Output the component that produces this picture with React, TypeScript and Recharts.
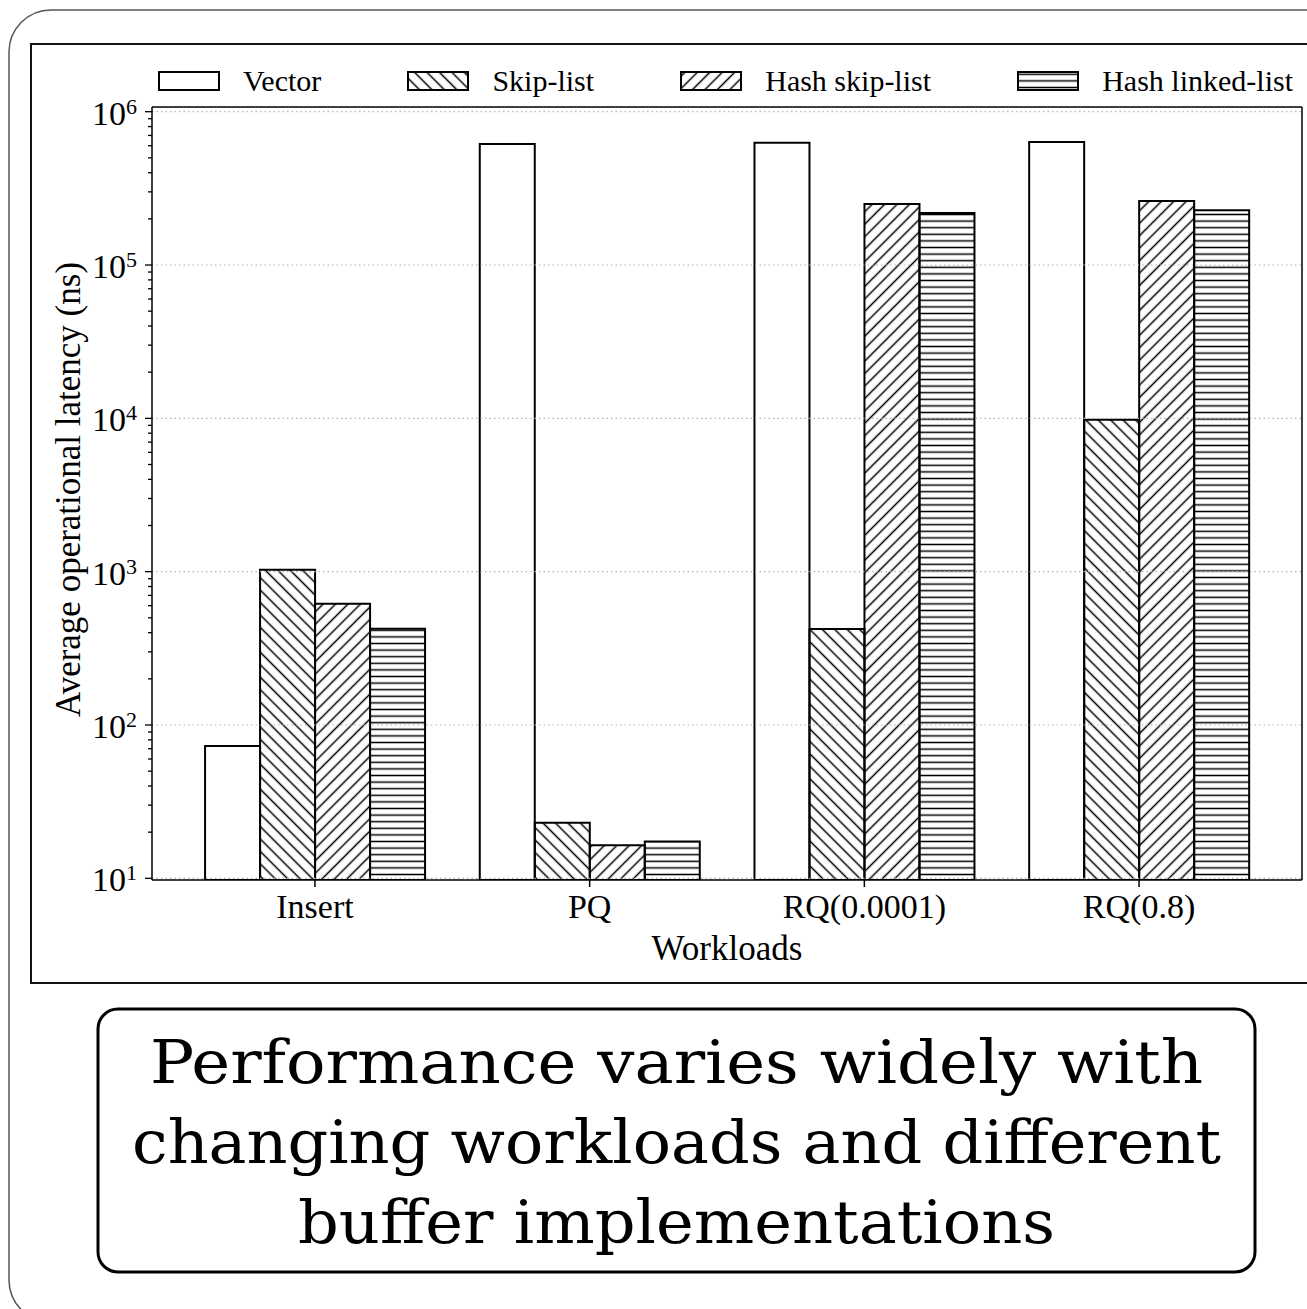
import React from 'react';
import { BarChart, Bar, XAxis, YAxis, ReferenceLine } from 'recharts';

const workloads = ['Insert', 'PQ', 'RQ(0.0001)', 'RQ(0.8)'];
const vectorLatency = [73, 616000, 628000, 635000];
const skipListLatency = [1030, 23, 423, 9800];
const hashSkipListLatency = [618, 16.4, 250000, 262000];
const hashLinkedListLatency = [425, 17.4, 218000, 228000];

const seriesNames = ['Vector', 'Skip-list', 'Hash skip-list', 'Hash linked-list'];
const seriesKeys = ['vector', 'skipList', 'hashSkipList', 'hashLinkedList'];
const seriesFills = ['none', 'url(#hatchBack)', 'url(#hatchFwd)', 'url(#hatchHoriz)'];

const yMajorTicks = [10, 100, 1000, 10000, 100000, 1000000];
const yMinorMultipliers = [2, 3, 4, 5, 6, 7, 8, 9];
const yDomain: [number, number] = [9.75, 1.073e6];

const xAxisTitle = 'Workloads';
const yAxisTitle = 'Average operational latency (ns)';
const captionLines = [
  'Performance varies widely with',
  'changing workloads and different',
  'buffer implementations',
];
const captionWidths = [1053, 1089, 757];

const data = workloads.map((name, i) => ({
  name,
  vector: vectorLatency[i],
  skipList: skipListLatency[i],
  hashSkipList: hashSkipListLatency[i],
  hashLinkedList: hashLinkedListLatency[i],
}));

const yTicks: number[] = [];
yMajorTicks.forEach((t) => {
  yTicks.push(t);
  if (t < 1000000) yMinorMultipliers.forEach((m) => yTicks.push(m * t));
});
yTicks.sort((a, b) => a - b);

const SERIF = '"Liberation Serif", "Times New Roman", serif';

const YTick = (props: any) => {
  const { x, y, payload } = props;
  const v = payload.value;
  const lg = Math.log10(v);
  const exp = Math.round(lg);
  const isMajor = Math.abs(lg - exp) < 1e-6;
  const len = isMajor ? 7 : 4;
  return (
    <g>
      <line x1={x - len} x2={x} y1={y} y2={y} stroke="#000" strokeWidth={1.3} />
      {isMajor && (
        <text x={x - 15} y={y + 13} textAnchor="end" fontFamily={SERIF} fontSize={34} fill="#000">
          10
          <tspan dy={-11} fontSize={22}>{exp}</tspan>
        </text>
      )}
    </g>
  );
};

const XTick = (props: any) => {
  const { x, y, payload } = props;
  return (
    <g>
      <line x1={x} x2={x} y1={y} y2={y + 7} stroke="#000" strokeWidth={1.5} />
      <text x={x} y={y + 38} textAnchor="middle" fontFamily={SERIF} fontSize={34} fill="#000">
        {payload.value}
      </text>
    </g>
  );
};

const XLabel = (props: any) => {
  const vb = props.viewBox || { x: 152, y: 880, width: 1150, height: 90 };
  return (
    <text x={vb.x + vb.width / 2} y={vb.y + 80} textAnchor="middle" fontFamily={SERIF} fontSize={35} fill="#000">
      {xAxisTitle}
    </text>
  );
};

const YLabel = (props: any) => {
  const vb = props.viewBox || { x: 52, y: 107, width: 100, height: 773 };
  const lx = vb.x + 28;
  const ly = vb.y + vb.height / 2 - 4;
  return (
    <text
      x={lx}
      y={ly}
      transform={`rotate(-90, ${lx}, ${ly})`}
      textAnchor="middle"
      fontFamily={SERIF}
      fontSize={35}
      fill="#000"
    >
      {yAxisTitle}
    </text>
  );
};

const Patterns = () => (
  <svg width={0} height={0} style={{ position: 'absolute', left: 0, top: 0 }}>
    <defs>
      <pattern id="hatchBack" patternUnits="userSpaceOnUse" width={8.8} height={8.8} patternTransform="rotate(-45)">
        <line x1={4.4} y1={0} x2={4.4} y2={8.8} stroke="#000" strokeWidth={1.5} />
      </pattern>
      <pattern id="hatchFwd" patternUnits="userSpaceOnUse" width={8.8} height={8.8} patternTransform="rotate(45)">
        <line x1={4.4} y1={0} x2={4.4} y2={8.8} stroke="#000" strokeWidth={1.5} />
      </pattern>
      <pattern id="hatchHoriz" patternUnits="userSpaceOnUse" width={10} height={6.6}>
        <line x1={0} y1={3.3} x2={10} y2={3.3} stroke="#000" strokeWidth={1.5} />
      </pattern>
    </defs>
  </svg>
);

const LegendRow = () => (
  <div
    style={{
      position: 'absolute',
      left: 158,
      top: 71,
      width: 1135,
      height: 20,
      display: 'flex',
      justifyContent: 'space-between',
      alignItems: 'center',
    }}
  >
    {seriesNames.map((n, i) => (
      <div key={n} style={{ display: 'flex', alignItems: 'center', height: 20 }}>
        <svg width={62} height={20} style={{ display: 'block' }}>
          <rect x={1} y={1} width={60} height={18} fill={seriesFills[i]} stroke="#000" strokeWidth={2} />
        </svg>
        <span style={{ marginLeft: 23, fontFamily: SERIF, fontSize: 30, lineHeight: '20px', color: '#000', whiteSpace: 'nowrap' }}>
          {n}
        </span>
      </div>
    ))}
  </div>
);

export default function App() {
  return (
    <div style={{ position: 'absolute', left: 0, top: 0, width: 1307, height: 1309, background: '#fff', overflow: 'hidden' }}>
      <Patterns />
      <svg width={1307} height={1309} style={{ position: 'absolute', left: 0, top: 0 }}>
        <rect x={9} y={10} width={1340} height={1312} rx={42} ry={42} fill="#fff" stroke="#555" strokeWidth={1.5} />
        <rect x={31} y={44} width={1300} height={939} fill="#fff" stroke="#111" strokeWidth={2} />
        <rect x={98} y={1009} width={1157} height={263} rx={20} ry={20} fill="#fff" stroke="#000" strokeWidth={3} />
        {captionLines.map((line, i) => (
          <text
            key={line}
            x={676.5}
            y={1083 + i * 80}
            textAnchor="middle"
            fontFamily='"DejaVu Serif", serif'
            fontSize={59}
            textLength={captionWidths[i]}
            lengthAdjust="spacingAndGlyphs"
            fill="#000"
          >
            {line}
          </text>
        ))}
      </svg>
      <LegendRow />
      <div style={{ position: 'absolute', left: 0, top: 0 }}>
        <BarChart
          width={1307}
          height={1000}
          data={data}
          margin={{ top: 106, right: 4, bottom: 30, left: 52 }}
          barGap={0}
          barCategoryGap="10%"
        >
          <XAxis
            dataKey="name"
            height={90}
            padding={{ left: 25.6, right: 25.6 }}
            tickSize={0}
            tickMargin={0}
            tickLine={false}
            tick={<XTick />}
            interval={0}
            axisLine={{ stroke: '#000', strokeWidth: 1.5 }}
            label={<XLabel />}
          />
          <XAxis
            xAxisId="top"
            orientation="top"
            dataKey="name"
            height={1}
            padding={{ left: 25.6, right: 25.6 }}
            tick={false}
            tickLine={false}
            axisLine={{ stroke: '#000', strokeWidth: 1.5 }}
          />
          <YAxis
            scale="log"
            type="number"
            domain={yDomain}
            allowDataOverflow
            ticks={yTicks}
            interval={0}
            width={100}
            tickSize={0}
            tickMargin={0}
            tickLine={false}
            tick={<YTick />}
            axisLine={{ stroke: '#000', strokeWidth: 1.5 }}
            label={<YLabel />}
          />
          <YAxis
            yAxisId="right"
            orientation="right"
            width={1}
            domain={[0, 1]}
            tick={false}
            tickLine={false}
            axisLine={{ stroke: '#000', strokeWidth: 1.5 }}
          />
          {yMajorTicks.map((t) => (
            <ReferenceLine key={t} y={t} stroke="#b3b3b3" strokeWidth={1.2} strokeDasharray="1.5 3" />
          ))}
          {seriesKeys.map((k, i) => (
            <Bar
              key={k}
              dataKey={k}
              name={seriesNames[i]}
              fill={seriesFills[i]}
              stroke="#000"
              strokeWidth={2}
              isAnimationActive={false}
            />
          ))}
        </BarChart>
      </div>
    </div>
  );
}
